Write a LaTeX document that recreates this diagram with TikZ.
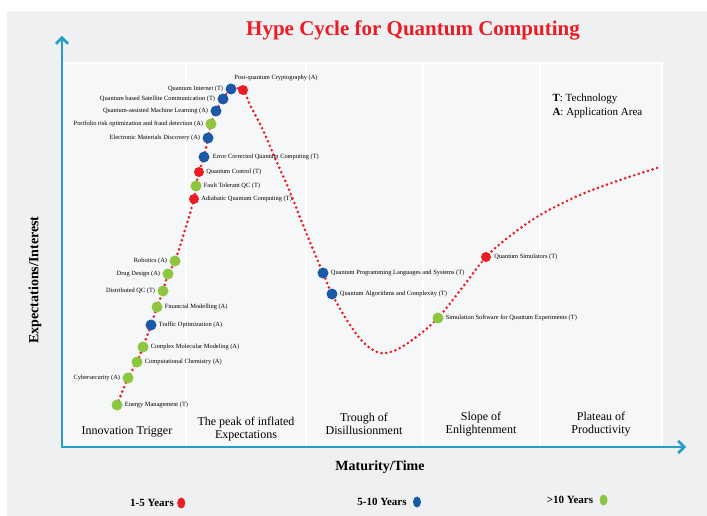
\documentclass[tikz,border=0pt]{standalone}
\usepackage{fontspec}
\setmainfont{Liberation Serif}
\usetikzlibrary{arrows.meta,positioning,shapes.geometric}

\definecolor{fondo}{RGB}{239,240,242}
\definecolor{panel}{RGB}{246,247,248}
\definecolor{eje}{RGB}{38,158,200}
\definecolor{rojo}{RGB}{236,28,36}
\definecolor{azul}{RGB}{28,88,168}
\definecolor{verde}{RGB}{141,198,63}

\begin{document}
\begin{tikzpicture}[x=1pt,y=-1pt]
  % Definir estilos
  \tikzset{
    punto/.style={circle, inner sep=0pt, minimum size=11pt},
    punto_rojo/.style={punto, fill=rojo, minimum size=10pt},
    punto_azul/.style={punto, fill=azul},
    punto_verde/.style={punto, fill=verde},
    etiqueta/.style={font=\fontsize{6.4}{7}\selectfont, inner sep=1pt},
    fase/.style={font=\fontsize{12}{13.5}\selectfont, align=center},
    leyenda/.style={font=\fontsize{11}{12}\selectfont\bfseries, inner sep=1pt},
    marca/.style={ellipse, inner sep=0pt, minimum width=8pt, minimum height=11pt},
    eje_flecha/.style={eje, line width=2.6pt, -{Straight Barb[length=6pt,width=12pt]}},
    curva/.style={rojo, line width=2.9pt, line cap=round, dash pattern=on 0pt off 4.8pt}
  }

  % Fondo
  \useasboundingbox (0,0) rectangle (707,516);
  \fill[white] (0,0) rectangle (707,516);
  \fill[fondo] (7,11) rectangle (707,516);

  % Titulo
  \node[text=rojo, font=\fontsize{21}{24}\selectfont\bfseries] (titulo) at (413,30) {Hype Cycle for Quantum Computing};

  % Paneles de las fases
  \draw[white, line width=1.5pt, fill=panel] (63,63) rectangle (186,447);
  \draw[white, line width=1.5pt, fill=panel] (186,63) rectangle (306,447);
  \draw[white, line width=1.5pt, fill=panel] (306,63) rectangle (423,447);
  \draw[white, line width=1.5pt, fill=panel] (423,63) rectangle (540,447);
  \draw[white, line width=1.5pt, fill=panel] (540,63) rectangle (662,447);

  % Ejes
  \draw[eje_flecha] (62,448) -- (62,36);
  \draw[eje_flecha] (61,447) -- (686,447);
  \node[font=\fontsize{14}{16}\selectfont\bfseries] (eje_x) at (380,467) {Maturity/Time};
  \node[font=\fontsize{14}{16}\selectfont\bfseries, rotate=90] (eje_y) at (35,280) {Expectations/Interest};

  % Nombres de las fases
  \node[fase] (f1) at (127,432) {Innovation Trigger};
  \node[fase] (f2) at (246,429) {The peak of inflated\\Expectations};
  \node[fase] (f3) at (364,424) {Trough of\\Disillusionment};
  \node[fase] (f4) at (481,424) {Slope of\\Enlightenment};
  \node[fase] (f5) at (601,424) {Plateau of\\Productivity};

  % Clave T / A
  \node[font=\fontsize{11}{14}\selectfont, align=left, anchor=west] (clave) at (549,106)
    {\textbf{T}: Technology\\\textbf{A}: Application Area};

  % Curva punteada
  \draw[curva] plot[smooth, tension=0.55] coordinates {
    (117,405) (128,378) (137,362) (143,347) (151,325) (157,307) (163,291)
    (168,274) (175,261) (185,230) (194,199) (196,186) (199,172) (204,157)
    (208,138) (211,124) (216,111) (223,99) (231,89) (243,90) (250,105)
    (262,128) (275,158) (290,192) (305,230) (323,273) (332,294) (348,322)
    (364,343) (380,353) (396,350) (415,338) (438,318) (462,288) (486,257)
    (510,236) (540,215) (580,195) (620,180) (660,167)};

  % Innovation Trigger
  \node[punto_verde] (energia) at (117,405) {};
  \node[etiqueta, right=1pt of energia] (energia_txt) {Energy Management (T)};
  \node[punto_verde] (ciberseguridad) at (128,378) {};
  \node[etiqueta, left=1pt of ciberseguridad] (ciberseguridad_txt) {Cybersecurity (A)};
  \node[punto_verde] (quimica) at (137,362) {};
  \node[etiqueta, right=1pt of quimica] (quimica_txt) {Computational Chemistry (A)};
  \node[punto_verde] (molecular) at (143,347) {};
  \node[etiqueta, right=1pt of molecular] (molecular_txt) {Complex Molecular Modeling (A)};
  \node[punto_azul] (trafico) at (151,325) {};
  \node[etiqueta, right=1pt of trafico] (trafico_txt) {Traffic Optimization (A)};
  \node[punto_verde] (financiero) at (157,307) {};
  \node[etiqueta, right=1pt of financiero] (financiero_txt) {Financial Modelling (A)};
  \node[punto_verde] (qc_distribuido) at (163,291) {};
  \node[etiqueta, left=1pt of qc_distribuido] (qc_distribuido_txt) {Distributed QC (T)};
  \node[punto_verde] (farmacos) at (168,274) {};
  \node[etiqueta, left=1pt of farmacos] (farmacos_txt) {Drug Design (A)};
  \node[punto_verde] (robotica) at (175,261) {};
  \node[etiqueta, left=1pt of robotica] (robotica_txt) {Robotics (A)};

  % Pico
  \node[punto_rojo] (adiabatica) at (194,199) {};
  \node[etiqueta, right=1pt of adiabatica] (adiabatica_txt) {Adiabatic Quantum Computing (T)};
  \node[punto_verde] (tolerante) at (196,186) {};
  \node[etiqueta, right=1pt of tolerante] (tolerante_txt) {Fault Tolerant QC (T)};
  \node[punto_rojo] (control) at (199,172) {};
  \node[etiqueta, right=1pt of control] (control_txt) {Quantum Control (T)};
  \node[punto_azul] (correccion) at (204,157) {};
  \node[etiqueta, right=2pt of correccion] (correccion_txt) {Error Corrected Quantum Computing (T)};
  \node[punto_azul] (materiales) at (208,138) {};
  \node[etiqueta, left=1pt of materiales] (materiales_txt) {Electronic Materials Discovery (A)};
  \node[punto_verde] (cartera) at (211,124) {};
  \node[etiqueta, left=1pt of cartera] (cartera_txt) {Portfolio risk optimization and fraud detection (A)};
  \node[punto_azul] (ml_cuantico) at (216,111) {};
  \node[etiqueta, left=1pt of ml_cuantico] (ml_cuantico_txt) {Quantum-assisted Machine Learning (A)};
  \node[punto_azul] (satelite) at (223,99) {};
  \node[etiqueta, left=1pt of satelite] (satelite_txt) {Quantum based Satellite Communication (T)};
  \node[punto_azul] (internet) at (231,89) {};
  \node[etiqueta, left=1pt of internet] (internet_txt) {Quantum Internet (T)};
  \node[punto_rojo] (postcuantica) at (243,90) {};
  \node[etiqueta, above=3pt of postcuantica, xshift=33pt] (postcuantica_txt) {Post-quantum Cryptography (A)};

  % Valle y pendiente
  \node[punto_azul] (lenguajes) at (323,273) {};
  \node[etiqueta, right=1pt of lenguajes] (lenguajes_txt) {Quantum Programming Languages and Systems (T)};
  \node[punto_azul] (algoritmos) at (332,294) {};
  \node[etiqueta, right=1pt of algoritmos] (algoritmos_txt) {Quantum Algorithms and Complexity (T)};
  \node[punto_verde] (software_sim) at (438,318) {};
  \node[etiqueta, right=1pt of software_sim] (software_sim_txt) {Simulation Software for Quantum Experiments (T)};
  \node[punto_rojo] (simuladores) at (486,257) {};
  \node[etiqueta, right=2pt of simuladores] (simuladores_txt) {Quantum Simulators (T)};

  % Leyenda de plazos
  \node[leyenda] (corto) at (152,503) {1-5 Years};
  \node[marca, fill=rojo, right=2pt of corto] (corto_m) {};
  \node[leyenda] (medio) at (382,502) {5-10 Years};
  \node[marca, fill=azul, right=5pt of medio] (medio_m) {};
  \node[leyenda] (largo) at (570,500) {>10 Years};
  \node[marca, fill=verde, right=5pt of largo] (largo_m) {};
\end{tikzpicture}
\end{document}
